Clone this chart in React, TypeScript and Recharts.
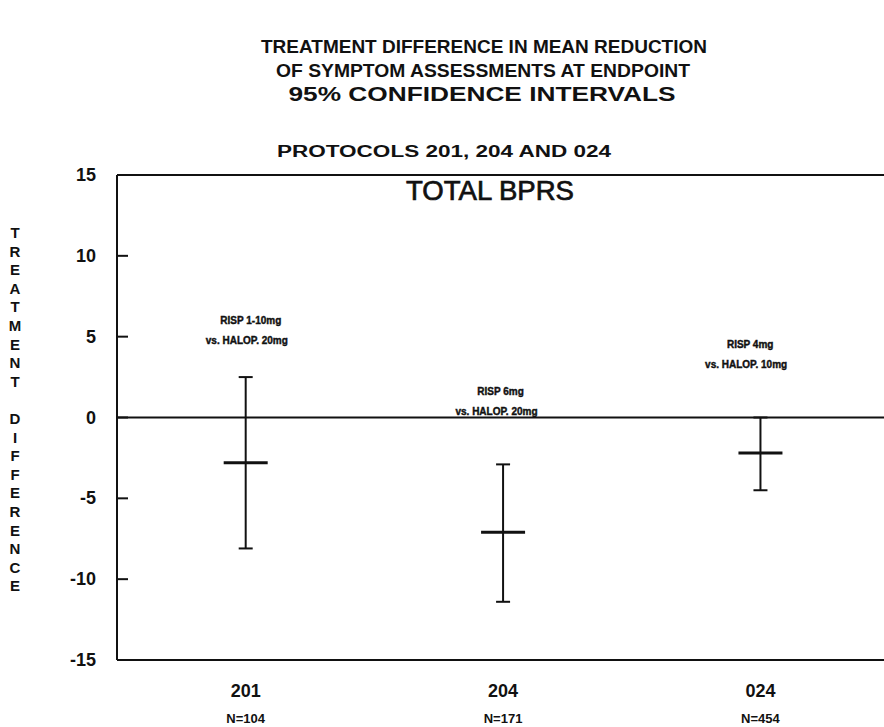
import React from "react";
import {
  ScatterChart,
  Scatter,
  XAxis,
  YAxis,
  ErrorBar,
  ReferenceLine,
  ReferenceDot,
} from "recharts";

const protocols = ["201", "204", "024"];
const sampleSizes = ["N=104", "N=171", "N=454"];
const meanDiff = [-2.8, -7.1, -2.2];
const ciLower = [-8.1, -11.4, -4.5];
const ciUpper = [2.5, -2.9, 0.0];
const noteRisp = ["RISP 1-10mg", "RISP 6mg", "RISP 4mg"];
const noteHalop = ["vs. HALOP. 20mg", "vs. HALOP. 20mg", "vs. HALOP. 10mg"];
const noteX = [1.02, 1.99, 2.96];
const noteY = [5.8, 1.4, 4.3];
const yTicks = [-15, -10, -5, 0, 5, 10, 15];

const rows = protocols.map((p, i) => ({
  x: i + 1,
  mean: meanDiff[i],
  err: [meanDiff[i] - ciLower[i], ciUpper[i] - meanDiff[i]],
}));

const W = 884;
const H = 727;
const INK = "#111";
const FONT = "'Liberation Sans', Arial, Helvetica, sans-serif";

function YTick({ x, y, payload }: any) {
  // axis line sits 20px right of the label anchor; ticks point into the plot
  return (
    <g>
      <line x1={x + 20} x2={x + 31} y1={y} y2={y} stroke={INK} strokeWidth={2} />
      <text
        x={x - 1}
        y={y}
        dy={6}
        textAnchor="end"
        fontFamily={FONT}
        fontWeight="bold"
        fontSize={18}
        fill={INK}
      >
        {payload.value}
      </text>
    </g>
  );
}

function XTick({ x, y, payload }: any) {
  const i = payload.value - 1;
  return (
    <g fontFamily={FONT} fontWeight="bold" fill={INK} textAnchor="middle">
      <text x={x} y={y + 37} fontSize={18}>
        {protocols[i]}
      </text>
      <text x={x} y={y + 63} fontSize={13}>
        {sampleSizes[i]}
      </text>
    </g>
  );
}

function MeanTick({ cx, cy }: any) {
  return <line x1={cx - 22} x2={cx + 22} y1={cy} y2={cy} stroke={INK} strokeWidth={3} />;
}

function NoteLabel({ viewBox, i }: any) {
  const cx = viewBox.x + viewBox.width / 2;
  const cy = viewBox.y + viewBox.height / 2;
  return (
    <g
      fontFamily={FONT}
      fontWeight="bold"
      fontSize={10}
      fill={INK}
      stroke={INK}
      strokeWidth={0.4}
      textAnchor="middle"
    >
      <text x={cx} y={cy}>
        {noteRisp[i]}
      </text>
      <text x={cx - 4} y={cy + 20}>
        {noteHalop[i]}
      </text>
    </g>
  );
}

const yLabel = "TREATMENT DIFFERENCE".split("");

export default function App() {
  return (
    <div style={{ position: "absolute", left: 0, top: 0, width: W, height: H, background: "#fff" }}>
      <ScatterChart width={W} height={H} margin={{ top: 175, right: 0, bottom: 0, left: 0 }}>
        <XAxis
          type="number"
          dataKey="x"
          domain={[0.5, 3.48]}
          ticks={[1, 2, 3]}
          allowDataOverflow
          height={67}
          tickSize={0}
          tickMargin={0}
          tickLine={false}
          axisLine={{ stroke: INK, strokeWidth: 2 }}
          tick={<XTick />}
        />
        <YAxis
          type="number"
          dataKey="mean"
          domain={[-15, 15]}
          ticks={yTicks}
          allowDataOverflow
          width={117}
          tickSize={0}
          tickMargin={20}
          tickLine={false}
          axisLine={{ stroke: INK, strokeWidth: 2 }}
          tick={<YTick />}
        />
        <ReferenceLine y={15} stroke={INK} strokeWidth={2} />
        <ReferenceLine y={0} stroke={INK} strokeWidth={2} />
        {noteRisp.map((_, i) => (
          <ReferenceDot
            key={i}
            x={noteX[i]}
            y={noteY[i]}
            r={0}
            fill="none"
            stroke="none"
            label={<NoteLabel i={i} />}
          />
        ))}
        <Scatter data={rows} dataKey="mean" shape={<MeanTick />} isAnimationActive={false}>
          <ErrorBar dataKey="err" direction="y" width={7} stroke={INK} strokeWidth={2} />
        </Scatter>
      </ScatterChart>

      <svg
        width={W}
        height={H}
        style={{ position: "absolute", left: 0, top: 0, pointerEvents: "none" }}
      >
        <g fontFamily={FONT} fontWeight="bold" fill={INK} textAnchor="middle">
          <text x={484} y={53} fontSize={18} textLength={446} lengthAdjust="spacingAndGlyphs">
            TREATMENT DIFFERENCE IN MEAN REDUCTION
          </text>
          <text x={483} y={77} fontSize={18} textLength={414} lengthAdjust="spacingAndGlyphs">
            OF SYMPTOM ASSESSMENTS AT ENDPOINT
          </text>
          <text x={482} y={101} fontSize={21} textLength={387} lengthAdjust="spacingAndGlyphs">
            95% CONFIDENCE INTERVALS
          </text>
          <text x={444} y={157} fontSize={16} textLength={334} lengthAdjust="spacingAndGlyphs">
            PROTOCOLS 201, 204 AND 024
          </text>
        </g>
        <text
          x={490}
          y={200}
          textAnchor="middle"
          fontFamily={FONT}
          fontSize={27}
          fill={INK}
          stroke={INK}
          strokeWidth={0.7}
          textLength={168}
          lengthAdjust="spacingAndGlyphs"
        >
          TOTAL BPRS
        </text>
        <g fontFamily={FONT} fontWeight="bold" fontSize={15} fill={INK} textAnchor="middle">
          {yLabel.map((ch, k) => (
            <text key={k} x={15} y={238 + k * 18.6}>
              {ch}
            </text>
          ))}
        </g>
      </svg>
    </div>
  );
}
